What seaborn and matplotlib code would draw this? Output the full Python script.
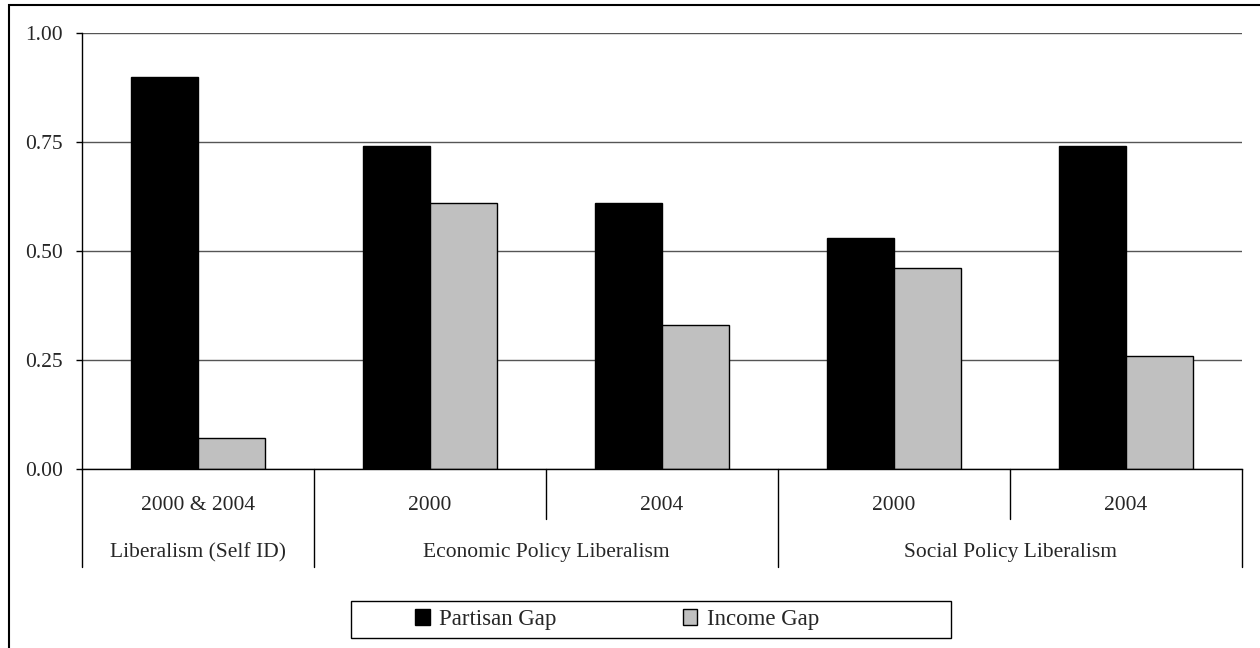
import matplotlib
matplotlib.use("Agg")
import matplotlib.pyplot as plt
from matplotlib.patches import Rectangle, Patch
from matplotlib.transforms import blended_transform_factory
import seaborn as sns
import pandas as pd

# Sub-category slots along the x axis
years = ["2000 & 2004", "2000", "2004", "2000", "2004"]
slots = ["s0", "s1", "s2", "s3", "s4"]
# Measure groups and the slots they span
groups = ["Liberalism (Self ID)", "Economic Policy Liberalism", "Social Policy Liberalism"]
group_spans = [(0, 0), (1, 2), (3, 4)]

series = ["Partisan Gap", "Income Gap"]
partisan_gap = [0.90, 0.74, 0.61, 0.53, 0.74]
income_gap = [0.07, 0.61, 0.33, 0.46, 0.26]
y_ticks = [0.00, 0.25, 0.50, 0.75, 1.00]

colors = {"Partisan Gap": "#000000", "Income Gap": "#c0c0c0"}

df = pd.DataFrame({
    "slot": slots * 2,
    "series": [series[0]] * 5 + [series[1]] * 5,
    "value": partisan_gap + income_gap,
})

sns.set_style("white")
plt.rcParams["font.family"] = ["Liberation Serif", "DejaVu Serif"]

W, H = 1260, 648
fig = plt.figure(figsize=(W / 100, H / 100), dpi=100)
ax = fig.add_axes([82 / W, 1 - 469 / H, (1242 - 82) / W, (469 - 33) / H])

sns.barplot(data=df, x="slot", y="value", hue="series", order=slots,
            hue_order=series, palette=colors, width=0.58,
            edgecolor="black", linewidth=1, saturation=1, ax=ax,
            legend=False, errorbar=None)

ax.set_xlim(-0.5, 4.5)
ax.set_ylim(0, 1)
ax.set_yticks(y_ticks)
ax.set_yticklabels([f"{v:.2f}" for v in y_ticks], fontsize=15.5)
ax.set_xticks([])
ax.set_xlabel("")
ax.set_ylabel("")
ax.set_axisbelow(True)
ax.yaxis.grid(True, color="#555555", linewidth=1)
ax.xaxis.grid(False)
for side in ("top", "right"):
    ax.spines[side].set_visible(False)
for side in ("left", "bottom"):
    ax.spines[side].set_color("black")
    ax.spines[side].set_linewidth(1)
ax.tick_params(axis="y", which="major", direction="out", length=4.5, width=1,
               color="black", left=True, pad=9)

trans = blended_transform_factory(ax.transData, ax.transAxes)
ax_h = 469 - 33
short_end = -(519 - 469) / ax_h
long_end = -(567 - 469) / ax_h
label1_y = -(505 - 469) / ax_h
label2_y = -(553 - 469) / ax_h

# Divider lines under the axis
group_edges = {-0.5} | {g[1] + 0.5 for g in group_spans}
for i in range(len(slots) + 1):
    xpos = i - 0.5
    end = long_end if xpos in group_edges else short_end
    ax.plot([xpos, xpos], [0, end], color="black", linewidth=1,
            transform=trans, clip_on=False)

for i, yr in enumerate(years):
    ax.text(i, label1_y, yr, transform=trans, ha="center", va="center",
            fontsize=15.5)
for name, (a, b) in zip(groups, group_spans):
    ax.text((a + b) / 2, label2_y, name, transform=trans, ha="center",
            va="center", fontsize=15.5)

# Legend with its own frame
handles = [Patch(facecolor=colors[s], edgecolor="black", linewidth=1) for s in series]
fig.legend(handles, series, loc="center left",
           bbox_to_anchor=(404 / W, 1 - 619.5 / H), ncol=2, frameon=False,
           fontsize=16.5, handlelength=0.64, handleheight=0.64,
           handletextpad=0.4, columnspacing=5.5, borderpad=0)
fig.add_artist(Rectangle((351 / W, 1 - 638 / H), 600 / W, 37 / H,
                         transform=fig.transFigure, fill=False,
                         edgecolor="black", linewidth=1))

# Outer border of the chart area
fig.add_artist(Rectangle((9 / W, -0.1), 1.2, 1 - 5 / H + 0.1,
                         transform=fig.transFigure, fill=False,
                         edgecolor="black", linewidth=1.5))

fig.savefig("out.png", dpi=100)
